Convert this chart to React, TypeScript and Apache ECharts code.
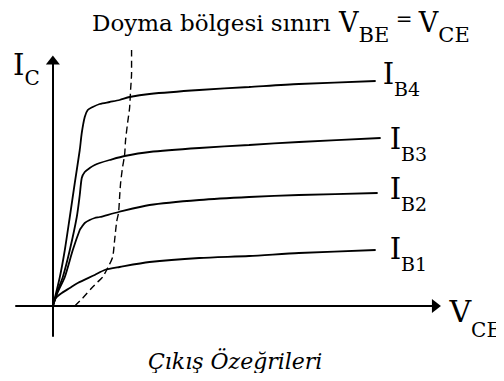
import React, { useEffect, useRef } from "react";
import * as echarts from "echarts";

// Output characteristics (arbitrary units: VCE horizontal, IC vertical)
const seriesNames = ["IB1", "IB2", "IB3", "IB4"];
const subscripts = ["B1", "B2", "B3", "B4"];

const ib1: number[][] = [[0,0],[3,8],[9,13],[17,18],[25,23],[42,31],[52,36],[67,39],[97,44],[147,48],[197,50],[247,53],[324,56]];
const ib2: number[][] = [[0,0],[5,14],[12,29],[20,56],[27,76],[29,79],[32,83],[37,86],[42,88],[47,89],[66,94],[97,101],[147,106],[197,109],[247,111],[326,113]];
const ib3: number[][] = [[0,0],[5,16],[10,29],[17,56],[24,89],[27,111],[29,128],[32,134],[37,138],[42,141],[47,143],[57,146],[72,150],[97,154],[147,158],[197,161],[247,164],[329,168]];
const ib4: number[][] = [[0,0],[7,29],[12,56],[17,89],[22,123],[27,156],[29,173],[32,189],[35,196],[40,199],[47,202],[57,204],[67,206],[77,209],[97,212],[147,216],[197,219],[247,222],[324,225]];
const saturationBoundary: number[][] = [[22,0],[30,8],[39,18],[45,24],[50,29],[55,38],[60,49],[62,66],[64,84],[66,94],[67,109],[68,123],[70,139],[72,151],[73,166],[75,183],[77,198],[78,216],[79,233],[79,256]];

const curves = [ib1, ib2, ib3, ib4];
const labelOffsets: number[][] = [[9, 4], [7, 1], [4, 6], [2, -2]];

const titleText = "Doyma bölgesi sınırı";
const captionText = "Çıkış Özeğrileri";

const SERIF = "DejaVu Serif";

export default function App() {
  const ref = useRef<HTMLDivElement>(null);
  useEffect(() => {
    if (!ref.current) return;
    const chart = echarts.init(ref.current, null, { renderer: "svg" });
    const tok = (fontSize: number, pad: number) => ({
      fontFamily: SERIF,
      fontSize,
      fontWeight: "normal",
      color: "#000",
      verticalAlign: "top",
      padding: [pad, 0, 0, 0],
    });
    const subRich = { i: tok(29, 0), s: tok(19, 20) };
    const option: any = {
      animation: false,
      backgroundColor: "#fff",
      title: [
        {
          text: `{t|${titleText}}{v| V}{s|BE}{e| = }{v|V}{s|CE}`,
          left: 92,
          top: 9,
          padding: 0,
          textStyle: {
            fontWeight: "normal",
            fontFamily: SERIF,
            rich: {
              t: tok(23, 2),
              v: tok(27, 0),
              s: tok(21, 15),
              e: tok(20, 0),
            },
          },
        },
        {
          text: captionText,
          left: 148,
          top: 350,
          padding: 0,
          textStyle: { fontFamily: SERIF, fontStyle: "italic", fontWeight: "normal", fontSize: 22, color: "#000" },
        },
      ],
      grid: { left: 16, right: 66, top: 60, bottom: 45, containLabel: false },
      xAxis: {
        type: "value",
        min: -37,
        max: 385,
        name: "{v|V}{s|CE}",
        nameLocation: "end",
        nameGap: 13,
        nameTextStyle: {
          verticalAlign: "middle",
          padding: [24, 0, 0, 0],
          rich: { v: tok(30, 0), s: tok(20, 24) },
        },
        axisLine: {
          onZero: true,
          symbol: ["none", "triangle"],
          symbolSize: [14, 9],
          lineStyle: { color: "#000", width: 2 },
        },
        axisTick: { show: false },
        axisLabel: { show: false },
        splitLine: { show: false },
      },
      yAxis: {
        type: "value",
        min: -30,
        max: 246,
        name: "{i|I}{s|C}",
        nameLocation: "end",
        nameGap: 10,
        nameTextStyle: {
          align: "right",
          verticalAlign: "top",
          padding: [0, 13, 0, 0],
          rich: { i: tok(29, 0), s: tok(20, 18) },
        },
        axisLine: {
          onZero: true,
          symbol: ["none", "triangle"],
          symbolSize: [14, 9],
          lineStyle: { color: "#000", width: 2 },
        },
        axisTick: { show: false },
        axisLabel: { show: false },
        splitLine: { show: false },
      },
      series: [
        ...curves.map((d, k) => ({
          type: "line",
          name: seriesNames[k],
          data: d,
          smooth: 0.25,
          showSymbol: false,
          symbol: "none",
          clip: false,
          lineStyle: { color: "#000", width: 1.8 },
          endLabel: {
            show: true,
            distance: 5,
            offset: labelOffsets[k],
            formatter: () => `{i|I}{s|${subscripts[k]}}`,
            rich: subRich,
          },
        })),
        {
          type: "line",
          name: "Doyma bölgesi sınırı",
          data: saturationBoundary,
          smooth: 0.25,
          showSymbol: false,
          symbol: "none",
          clip: false,
          lineStyle: { color: "#000", width: 1.4, type: [7, 4] },
        },
      ],
    };
    chart.setOption(option);
    return () => chart.dispose();
  }, []);
  return <div ref={ref} style={{ width: 504, height: 381, margin: -8 }} />;
}
